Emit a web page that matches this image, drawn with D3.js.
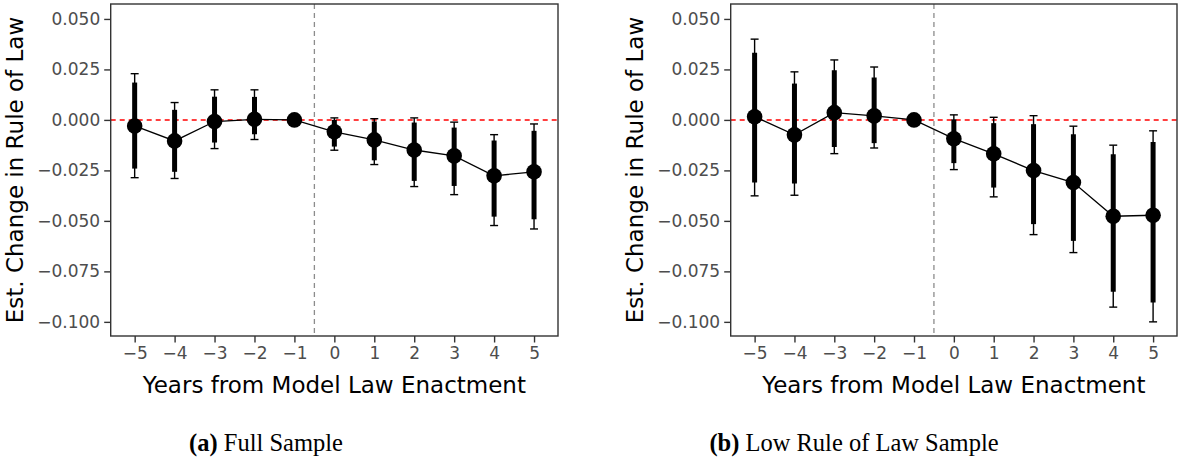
<!DOCTYPE html>
<meta charset="utf-8">
<head>
<script src="https://d3js.org/d3.v7.min.js"></script>
<style>
  body { margin: 0; background: #fff; }
  text { font-family: "DejaVu Sans", sans-serif; }
</style>
</head>
<body>
<svg id="chart" width="1178" height="462"></svg>

<script>
// years relative to enactment
var years = [-5, -4, -3, -2, -1, 0, 1, 2, 3, 4, 5];
var yTicks = [0.05, 0.025, 0, -0.025, -0.05, -0.075, -0.1];

// (a) full sample
var fullEst  = [-0.0030, -0.0104, -0.0008, 0.0003, 0, -0.0059, -0.0099, -0.0149, -0.0178, -0.0277, -0.0257];
var fullLo95 = [-0.0286, -0.0290, -0.0142, -0.0097, 0, -0.0150, -0.0221, -0.0330, -0.0370, -0.0523, -0.0540];
var fullHi95 = [0.0229, 0.0086, 0.0149, 0.0149, 0, 0.0010, 0.0006, 0.0010, -0.0011, -0.0073, -0.0020];
var fullLo90 = [-0.0241, -0.0257, -0.0112, -0.0071, 0, -0.0132, -0.0200, -0.0302, -0.0327, -0.0479, -0.0492];
var fullHi90 = [0.0185, 0.0050, 0.0115, 0.0114, 0, 0.0000, -0.0008, -0.0013, -0.0038, -0.0102, -0.0054];

// (b) low rule of law sample
var lowEst  = [0.0016, -0.0074, 0.0036, 0.0020, 0, -0.0093, -0.0168, -0.0251, -0.0310, -0.0477, -0.0472];
var lowLo95 = [-0.0376, -0.0373, -0.0167, -0.0139, 0, -0.0246, -0.0381, -0.0568, -0.0657, -0.0927, -0.1000];
var lowHi95 = [0.0400, 0.0238, 0.0297, 0.0262, 0, 0.0025, 0.0013, 0.0021, -0.0031, -0.0125, -0.0054];
var lowLo90 = [-0.0310, -0.0315, -0.0134, -0.0115, 0, -0.0214, -0.0335, -0.0516, -0.0599, -0.0851, -0.0904];
var lowHi90 = [0.0333, 0.0180, 0.0246, 0.0210, 0, 0.0003, -0.0016, -0.0021, -0.0071, -0.0170, -0.0109];

var svg = d3.select("#chart");

function drawPanel(left, right, titleX, caption, est, lo95, hi95, lo90, hi90) {
  var top = 4, bottom = 336;
  var x = d3.scaleLinear().domain([-5.6, 5.6]).range([left, right]);
  var y = d3.scaleLinear().domain([-0.107, 0.0574]).range([bottom, top]);
  var g = svg.append("g");

  var rows = years.map(function (yr, i) {
    return {yr: yr, est: est[i], lo95: lo95[i], hi95: hi95[i], lo90: lo90[i], hi90: hi90[i]};
  });

  // reference lines
  g.append("line")
    .attr("x1", x(-0.5)).attr("x2", x(-0.5))
    .attr("y1", top).attr("y2", bottom)
    .attr("stroke", "#8c8c8c").attr("stroke-width", 1.3)
    .attr("stroke-dasharray", "5,4");
  g.append("line")
    .attr("x1", left).attr("x2", right)
    .attr("y1", y(0)).attr("y2", y(0))
    .attr("stroke", "#ff0000").attr("stroke-width", 1.5)
    .attr("stroke-dasharray", "5,4");

  // 95% intervals with caps
  var ci = rows.filter(function (d) { return d.yr !== -1; });
  var capW = x(0.1) - x(0);
  g.selectAll(".ci95").data(ci).enter().append("line")
    .attr("x1", function (d) { return x(d.yr); })
    .attr("x2", function (d) { return x(d.yr); })
    .attr("y1", function (d) { return y(d.hi95); })
    .attr("y2", function (d) { return y(d.lo95); })
    .attr("stroke", "#000").attr("stroke-width", 1.4);
  ["hi95", "lo95"].forEach(function (k) {
    g.selectAll(".cap" + k).data(ci).enter().append("line")
      .attr("x1", function (d) { return x(d.yr) - capW; })
      .attr("x2", function (d) { return x(d.yr) + capW; })
      .attr("y1", function (d) { return y(d[k]); })
      .attr("y2", function (d) { return y(d[k]); })
      .attr("stroke", "#000").attr("stroke-width", 1.4);
  });
  // 90% intervals
  g.selectAll(".ci90").data(ci).enter().append("line")
    .attr("x1", function (d) { return x(d.yr); })
    .attr("x2", function (d) { return x(d.yr); })
    .attr("y1", function (d) { return y(d.hi90); })
    .attr("y2", function (d) { return y(d.lo90); })
    .attr("stroke", "#000").attr("stroke-width", 5);

  // connecting line + points
  g.append("path")
    .datum(rows)
    .attr("fill", "none").attr("stroke", "#000").attr("stroke-width", 1.3)
    .attr("d", d3.line().x(function (d) { return x(d.yr); }).y(function (d) { return y(d.est); }));
  g.selectAll(".pt").data(rows).enter().append("circle")
    .attr("cx", function (d) { return x(d.yr); })
    .attr("cy", function (d) { return y(d.est); })
    .attr("r", 7.8).attr("fill", "#000");

  // panel border
  g.append("rect")
    .attr("x", left).attr("y", top)
    .attr("width", right - left).attr("height", bottom - top)
    .attr("fill", "none").attr("stroke", "#333").attr("stroke-width", 1.4);

  // axes
  var ya = g.append("g").attr("transform", "translate(" + left + ",0)")
    .call(d3.axisLeft(y).tickValues(yTicks).tickFormat(d3.format(".3f")).tickSize(6.5).tickPadding(4));
  var xa = g.append("g").attr("transform", "translate(0," + bottom + ")")
    .call(d3.axisBottom(x).tickValues(years).tickFormat(d3.format("d")).tickSize(6.5).tickPadding(4));
  [ya, xa].forEach(function (a) {
    a.select(".domain").remove();
    a.selectAll(".tick line").attr("stroke", "#333").attr("stroke-width", 1.4);
    a.selectAll(".tick text").attr("fill", "#4d4d4d").style("font-size", "17px")
      .style("font-family", "'DejaVu Sans', sans-serif");
  });

  // axis titles
  g.append("text")
    .attr("x", (left + right) / 2).attr("y", 393)
    .attr("text-anchor", "middle").style("font-size", "23px")
    .text("Years from Model Law Enactment");
  g.append("text")
    .attr("transform", "translate(" + titleX + "," + ((top + bottom) / 2) + ") rotate(-90)")
    .attr("text-anchor", "middle").style("font-size", "23px")
    .text("Est. Change in Rule of Law");

  // caption
  var cap = g.append("text")
    .attr("x", caption.x).attr("y", 451)
    .attr("text-anchor", "middle")
    .style("font-family", "'Liberation Serif', serif").style("font-size", "24.5px");
  cap.append("tspan").style("font-weight", "bold").text(caption.tag);
  cap.append("tspan").text(" " + caption.text);
}

drawPanel(110.7, 558, 23, {x: 266, tag: "(a)", text: "Full Sample"},
  fullEst, fullLo95, fullHi95, fullLo90, fullHi90);
drawPanel(730.7, 1177, 643, {x: 854, tag: "(b)", text: "Low Rule of Law Sample"},
  lowEst, lowLo95, lowHi95, lowLo90, lowHi90);
</script>
</body>
